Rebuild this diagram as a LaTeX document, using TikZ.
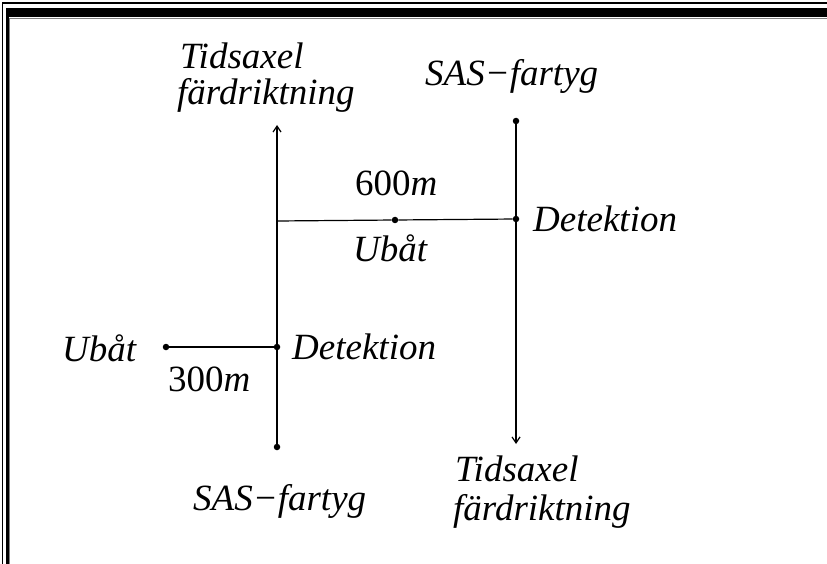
\documentclass[tikz,border=0pt]{standalone}
\usepackage{fontspec}
\setmainfont{Liberation Serif}
\usetikzlibrary{arrows.meta}
\begin{document}
\begin{tikzpicture}[x=1pt,y=-1pt,
  lbl/.style={anchor=base west,inner sep=0pt,font=\fontsize{37}{41}\selectfont\itshape},
  num/.style={anchor=base west,inner sep=0pt,font=\fontsize{37}{41}\selectfont},
  axis/.style={line width=1.2pt},
  dot/.style={circle,fill=black,inner sep=0pt,minimum size=6.5pt}]
\useasboundingbox (0,0) rectangle (827,564);
% frame
\draw[line width=1.2pt] (2.5,564) -- (2.5,3) -- (827,3);
\fill (6,8) rectangle (827,17.5);
\fill (6,8) rectangle (8.5,564);
\draw[gray,line width=0.6pt] (9.5,564) -- (9.5,18.5) -- (827,18.5);
% points
\node[dot] (lb) at (277,447) {};
\coordinate (lt) at (277,125);
\node[dot] (rt) at (516,121) {};
\coordinate (rb) at (516,444);
\node[dot] (rd) at (516,219) {};
\coordinate (lm) at (277,221);
\node[dot] (ub) at (395,220) {};
\node[dot] (ld) at (277,347) {};
\node[dot] (ul) at (166,347) {};
% lines
\draw[axis,-{Straight Barb[length=6pt,width=8pt]}] (lb) -- (lt);
\draw[axis,-{Straight Barb[length=6pt,width=8pt]}] (rt) -- (rb);
\draw[axis] (lm) -- (ub) -- (rd);
\draw[axis] (ul) -- (ld);
% labels
\node[lbl] (t1) at (180,69) {Tidsaxel};
\node[lbl] (f1) at (177,105) {färdriktning};
\node[lbl] (s1) at (425,86) {SAS−fartyg};
\node[num] (m6) at (355,196) {600\textit{m}};
\node[lbl] (d1) at (533,232) {Detektion};
\node[lbl] (u1) at (353,261) {Ubåt};
\node[lbl] (u2) at (62,361) {Ubåt};
\node[lbl] (d2) at (292,359) {Detektion};
\node[num] (m3) at (168,391) {300\textit{m}};
\node[lbl] (s2) at (193,510) {SAS−fartyg};
\node[lbl] (t2) at (455,481) {Tidsaxel};
\node[lbl] (f2) at (453,520) {färdriktning};
\end{tikzpicture}
\end{document}
